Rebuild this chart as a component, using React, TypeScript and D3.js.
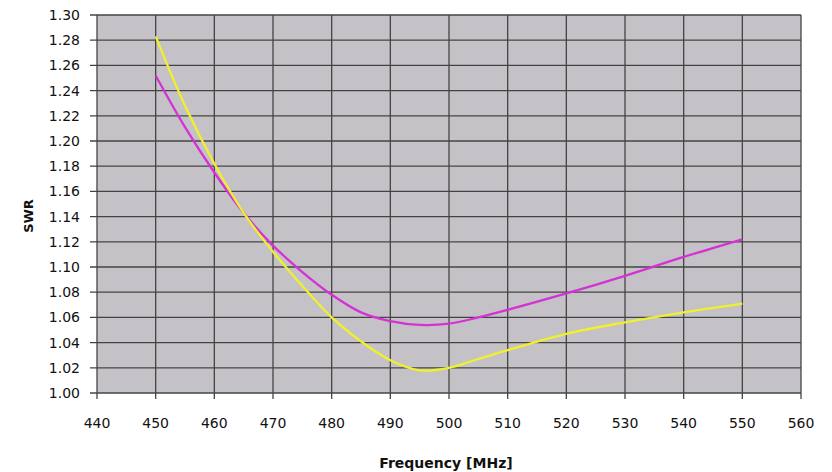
import React from 'react';
import * as d3 from 'd3';

// frequency points (MHz)
const freqs = [450, 455, 460, 465, 470, 475, 480, 485, 490, 495, 500, 505, 510, 520, 530, 540, 550];
// SWR readings
const swrMagenta = [1.252, 1.211, 1.175, 1.143, 1.117, 1.096, 1.078, 1.064, 1.057, 1.054, 1.055, 1.060, 1.066, 1.079, 1.093, 1.108, 1.122];
const swrYellow = [1.283, 1.228, 1.182, 1.143, 1.112, 1.085, 1.060, 1.041, 1.026, 1.018, 1.020, 1.027, 1.034, 1.047, 1.056, 1.064, 1.071];

const xTicks = [440, 450, 460, 470, 480, 490, 500, 510, 520, 530, 540, 550, 560];
const yTicks = [1.0, 1.02, 1.04, 1.06, 1.08, 1.1, 1.12, 1.14, 1.16, 1.18, 1.2, 1.22, 1.24, 1.26, 1.28, 1.3];

const W = 832;
const H = 472;
const margin = { top: 15, right: 31, bottom: 79, left: 97 };
const font = '"Comic Sans MS", "DejaVu Sans", sans-serif';

const App = () => {
  const innerW = W - margin.left - margin.right;
  const innerH = H - margin.top - margin.bottom;

  const x = d3.scaleLinear().domain([440, 560]).range([0, innerW]);
  const y = d3.scaleLinear().domain([1.0, 1.3]).range([innerH, 0]);

  const line = (vals: number[]) =>
    d3
      .line<number>()
      .x((d, i) => x(freqs[i]))
      .y(d => y(d))
      .curve(d3.curveCatmullRom.alpha(0.5))(vals) || '';

  return (
    <svg width={W} height={H} style={{ display: 'block', position: 'absolute', left: 0, top: 0, background: '#fff' }}>
      <g transform={`translate(${margin.left},${margin.top})`} style={{ fontFamily: font }}>
        <rect x={0} y={0} width={innerW} height={innerH} fill="#c4c2c7" />

        {/* grid */}
        {yTicks.map(t => (
          <line key={'gy' + t} x1={-7} x2={innerW} y1={y(t)} y2={y(t)} stroke="#444" strokeWidth={1.3} />
        ))}
        {xTicks.map(t => (
          <line key={'gx' + t} x1={x(t)} x2={x(t)} y1={0} y2={innerH + 6} stroke="#444" strokeWidth={1.3} />
        ))}

        {/* y tick labels */}
        {yTicks.map(t => (
          <text key={'ty' + t} x={-17} y={y(t)} dy="0.35em" textAnchor="end" fontSize={14} fill="#111">
            {d3.format('.2f')(t)}
          </text>
        ))}
        {/* x tick labels */}
        {xTicks.map(t => (
          <text key={'tx' + t} x={x(t)} y={innerH + 35} textAnchor="middle" fontSize={14} fill="#111">
            {t}
          </text>
        ))}

        {/* series */}
        <path d={line(swrMagenta)} fill="none" stroke="#d631d4" strokeWidth={2.3} />
        <path d={line(swrYellow)} fill="none" stroke="#f0f02c" strokeWidth={2.3} />

        {/* axis titles */}
        <text x={innerW / 2 - 3} y={innerH + 75} textAnchor="middle" fontSize={14} fontWeight="bold" fill="#111">
          Frequency [MHz]
        </text>
        <text
          transform={`translate(${-64},${innerH / 2 + 12}) rotate(-90)`}
          textAnchor="middle"
          fontSize={13}
          fontWeight="bold"
          fill="#111"
        >
          SWR
        </text>
      </g>
    </svg>
  );
};

export default App;
